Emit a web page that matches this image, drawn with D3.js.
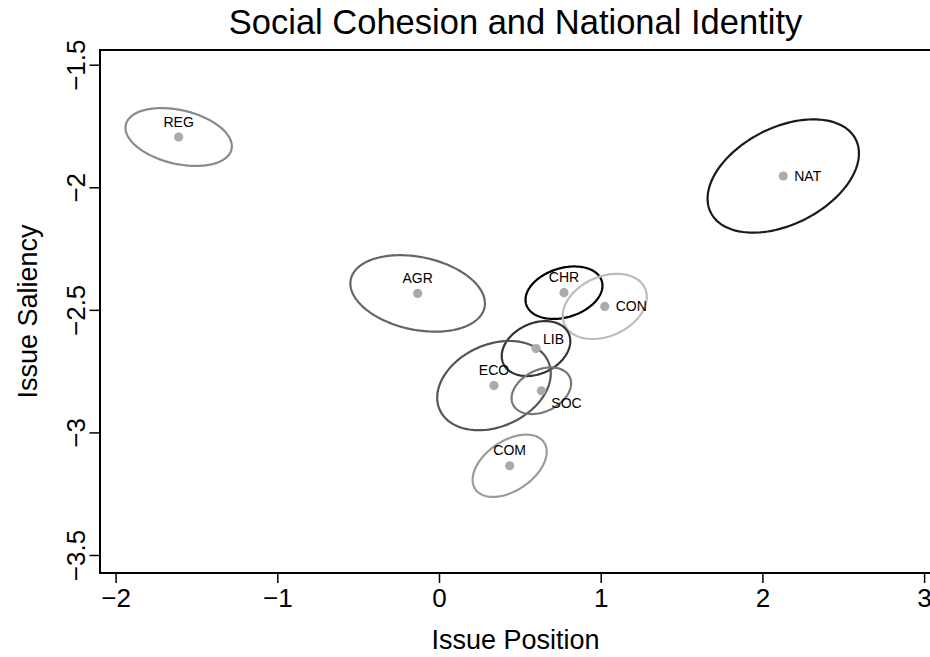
<!DOCTYPE html>
<html>
<head>
<meta charset="utf-8">
<script src="https://cdn.jsdelivr.net/npm/d3@7"></script>
<style>
  html, body { margin: 0; padding: 0; background: #fff; }
  svg { display: block; font-family: "Liberation Sans", Arial, Helvetica, sans-serif; }
</style>
</head>
<body>
<svg id="chart" width="930" height="657"></svg>
<script>
// Party families: mean position / saliency with confidence ellipses
const families = ["REG", "NAT", "AGR", "CHR", "CON", "LIB", "ECO", "SOC", "COM"];
const position = [-1.610, 2.129, -0.132, 0.773, 1.025, 0.600, 0.340, 0.633, 0.437];
const saliency = [-1.795, -1.954, -2.433, -2.430, -2.486, -2.658, -2.809, -2.830, -3.136];
// ellipse half-extents along each axis and their correlation
const spreadX = [0.329, 0.468, 0.416, 0.238, 0.260, 0.212, 0.351, 0.184, 0.229];
const spreadY = [0.118, 0.231, 0.156, 0.107, 0.133, 0.112, 0.182, 0.095, 0.127];
const corr    = [-0.32, 0.40, -0.26, 0.27, 0.29, 0.27, 0.27, 0.32, 0.45];
const ellipseGrey = ["#8a8a8a", "#1a1a1a", "#666666", "#000000", "#bdbdbd", "#333333", "#555555", "#777777", "#9a9a9a"];
const labelSide = ["above", "right", "above", "above", "right", "aboveright", "above", "belowright", "above"];

const xTicks = [-2, -1, 0, 1, 2, 3];
const yTicks = [-1.5, -2, -2.5, -3, -3.5];
const tickText = d => d3.format("")(d).replace("-", "\u2212");

const svg = d3.select("#chart");
const box = { left: 100, top: 50, right: 931, bottom: 573 };

const x = d3.scaleLinear().domain([-2, 3]).range([115.6, 924.1]);
const y = d3.scaleLinear().domain([-1.5, -3.5]).range([64.7, 555]);

// title
svg.append("text")
  .attr("x", (box.left + box.right) / 2).attr("y", 34)
  .attr("text-anchor", "middle")
  .attr("font-size", 34.5)
  .text("Social Cohesion and National Identity");

// axes
const xAxis = svg.append("g")
  .attr("transform", `translate(0,${box.bottom})`)
  .call(d3.axisBottom(x).tickValues(xTicks).tickFormat(tickText).tickSize(10).tickPadding(6));
xAxis.select(".domain").remove();
xAxis.selectAll("line").attr("stroke", "#000").attr("stroke-width", 1.5);
xAxis.selectAll("text").attr("font-size", 26).attr("font-family", null).attr("fill", "#000");

const yAxis = svg.append("g")
  .attr("transform", `translate(${box.left},0)`)
  .call(d3.axisLeft(y).tickValues(yTicks).tickFormat(tickText).tickSize(10.5));
yAxis.select(".domain").remove();
yAxis.selectAll("line").attr("stroke", "#000").attr("stroke-width", 1.5);
yAxis.selectAll("text")
  .attr("font-size", 26).attr("font-family", null).attr("fill", "#000")
  .attr("x", null).attr("dy", null)
  .attr("text-anchor", "middle")
  .attr("transform", "translate(-15,0) rotate(-90)");

// plot frame
svg.append("rect")
  .attr("x", box.left).attr("y", box.top)
  .attr("width", box.right - box.left).attr("height", box.bottom - box.top)
  .attr("fill", "none").attr("stroke", "#000").attr("stroke-width", 2);

// axis titles
svg.append("text")
  .attr("x", (box.left + box.right) / 2).attr("y", 649)
  .attr("text-anchor", "middle").attr("font-size", 27)
  .text("Issue Position");
svg.append("text")
  .attr("transform", `translate(37,${(box.top + box.bottom) / 2}) rotate(-90)`)
  .attr("text-anchor", "middle").attr("font-size", 27)
  .text("Issue Saliency");

// ellipses traced in data space, then mapped through the scales
const line = d3.line().x(p => x(p[0])).y(p => y(p[1])).curve(d3.curveLinearClosed);
const steps = d3.range(0, 2 * Math.PI, Math.PI / 90);
const rows = families.map((f, i) => ({
  f, i,
  px: position[i], py: saliency[i],
  sx: spreadX[i], sy: spreadY[i], r: corr[i],
  col: ellipseGrey[i], side: labelSide[i]
}));

svg.append("g").selectAll("path")
  .data(rows).join("path")
  .attr("d", d => line(steps.map(t => [
    d.px + d.sx * Math.cos(t),
    d.py + d.sy * (d.r * Math.cos(t) + Math.sqrt(1 - d.r * d.r) * Math.sin(t))
  ])))
  .attr("fill", "none")
  .attr("stroke", d => d.col)
  .attr("stroke-width", 2.2);

svg.append("g").selectAll("circle")
  .data(rows).join("circle")
  .attr("cx", d => x(d.px)).attr("cy", d => y(d.py))
  .attr("r", 4.6).attr("fill", "#ababab");

const offsets = {
  above:      { dx: 0,  dy: -10.5, anchor: "middle" },
  right:      { dx: 11, dy: 5,     anchor: "start" },
  aboveright: { dx: 7,  dy: -5,    anchor: "start" },
  belowright: { dx: 10, dy: 17,    anchor: "start" }
};
svg.append("g").selectAll("text")
  .data(rows).join("text")
  .attr("x", d => x(d.px) + offsets[d.side].dx)
  .attr("y", d => y(d.py) + offsets[d.side].dy)
  .attr("text-anchor", d => offsets[d.side].anchor)
  .attr("font-size", 14)
  .text(d => d.f);
</script>
</body>
</html>
